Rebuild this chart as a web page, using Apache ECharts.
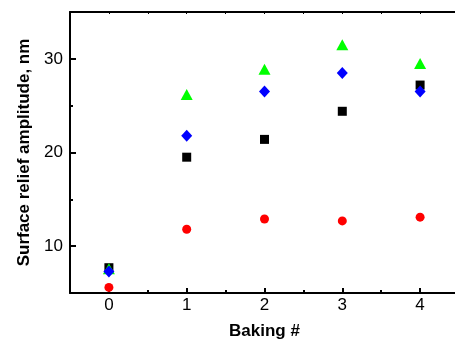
<!DOCTYPE html>
<html>
<head>
<meta charset="utf-8">
<script src="https://cdn.jsdelivr.net/npm/echarts@6/dist/echarts.min.js"></script>
<style>
  html, body { margin: 0; padding: 0; background: #fff; }
  #chart { width: 455px; height: 341px; }
</style>
</head>
<body>
<div id="chart"></div>
<script>
// Baking step index
const bakingSteps = [0, 1, 2, 3, 4];
// Surface relief amplitude (nm) for each sample set
const squareSeries = [7.7, 19.5, 21.4, 24.4, 27.2];
const triangleSeries = [7.6, 26.2, 28.9, 31.5, 29.5];
const diamondSeries = [7.3, 21.8, 26.5, 28.5, 26.5];
const circleSeries = [5.6, 11.8, 12.9, 12.7, 13.1];
// Tick positions
const xMajorTicks = [0, 1, 2, 3, 4];
const xMinorTicks = [0.5, 1.5, 2.5, 3.5];
const yMajorTicks = [10, 20, 30];
const yMinorTicks = [15, 25];

const FONT = 'Arial, "Liberation Sans", sans-serif';
const pairs = ys => bakingSteps.map((x, i) => [x, ys[i]]);

const baseX = {
  type: 'value', min: -0.5, max: 4.5,
  splitLine: { show: false },
  axisLine: { show: false, onZero: false },
  axisTick: { show: false },
  axisLabel: { show: false }
};
const baseY = {
  type: 'value', min: 5, max: 35,
  splitLine: { show: false },
  axisLine: { show: false, onZero: false },
  axisTick: { show: false },
  axisLabel: { show: false }
};
const solidLine = { show: true, onZero: false, lineStyle: { color: '#000', width: 2 } };

const chart = echarts.init(document.getElementById('chart'), null, { renderer: 'canvas' });
chart.setOption({
  animation: false,
  backgroundColor: '#fff',
  grid: { left: 70, top: 12, width: 389, height: 281, outerBoundsMode: 'none', containLabel: false },
  xAxis: [
    Object.assign({}, baseX, {
      position: 'bottom',
      name: 'Baking #', nameLocation: 'middle', nameGap: 30,
      nameTextStyle: { fontFamily: FONT, fontSize: 17, fontWeight: 'bold', color: '#000' },
      axisLine: solidLine,
      axisTick: { show: true, inside: true, length: 5, lineStyle: { color: '#000', width: 2 }, customValues: xMajorTicks },
      axisLabel: { show: true, customValues: xMajorTicks, fontFamily: FONT, fontSize: 17, color: '#000', margin: 4 }
    }),
    Object.assign({}, baseX, {
      position: 'bottom',
      axisTick: { show: true, inside: true, length: 3, lineStyle: { color: '#000', width: 2 }, customValues: xMinorTicks }
    }),
    Object.assign({}, baseX, {
      position: 'top',
      axisLine: solidLine,
      axisTick: { show: true, inside: true, length: 2, lineStyle: { color: '#000', width: 1 }, customValues: xMajorTicks.concat(xMinorTicks) }
    })
  ],
  yAxis: [
    Object.assign({}, baseY, {
      position: 'left',
      name: 'Surface relief amplitude, nm', nameLocation: 'middle', nameGap: 37, nameRotate: 90,
      nameTextStyle: { fontFamily: FONT, fontSize: 17, fontWeight: 'bold', color: '#000' },
      axisLine: solidLine,
      axisTick: { show: true, inside: true, length: 6, lineStyle: { color: '#000', width: 2 }, customValues: yMajorTicks },
      axisLabel: { show: true, customValues: yMajorTicks, fontFamily: FONT, fontSize: 17, color: '#000', margin: 7 }
    }),
    Object.assign({}, baseY, {
      position: 'left',
      axisTick: { show: true, inside: true, length: 3, lineStyle: { color: '#000', width: 2 }, customValues: yMinorTicks }
    })
  ],
  series: [
    { type: 'scatter', data: pairs(squareSeries), symbol: 'rect', symbolSize: 9, itemStyle: { color: '#000000', opacity: 1 } },
    { type: 'scatter', data: pairs(triangleSeries), symbol: 'triangle', symbolSize: [12, 11], itemStyle: { color: '#00ff00', opacity: 1 } },
    { type: 'scatter', data: pairs(diamondSeries), symbol: 'diamond', symbolSize: [11, 12], itemStyle: { color: '#0000ff', opacity: 1 } },
    { type: 'scatter', data: pairs(circleSeries), symbol: 'circle', symbolSize: 9, itemStyle: { color: '#ff0000', opacity: 1 } }
  ]
});
</script>
</body>
</html>
